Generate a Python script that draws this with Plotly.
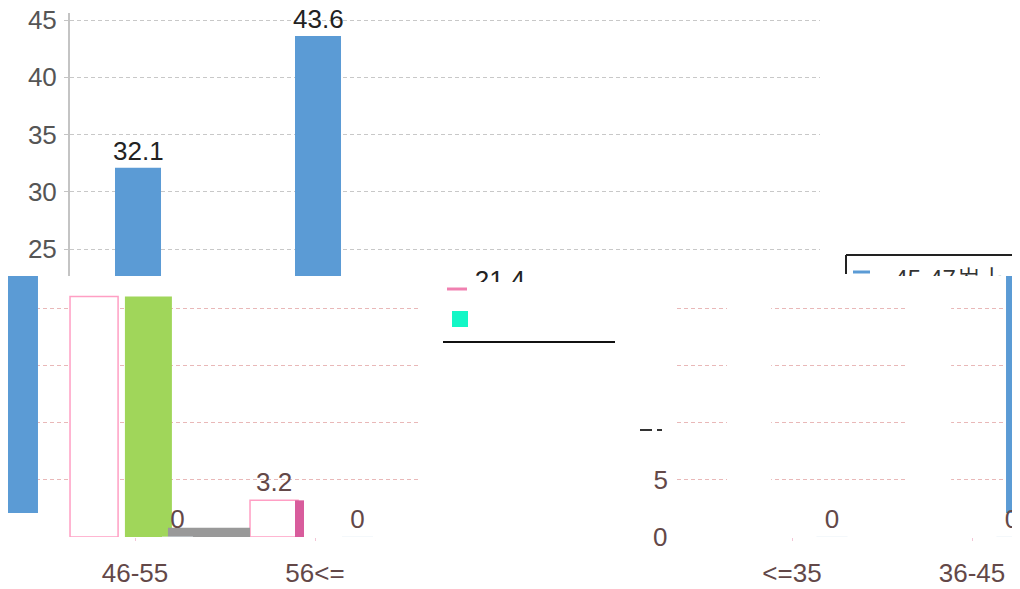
import plotly.graph_objects as go

W, H = 1020, 589          # page size
OFF = 8                   # default page margin of the html body
FW, FH = W - OFF, H - OFF  # figure size so that it ends at the page edge

# ---------------- data ----------------
categories = ["<=35", "36-45", "46-55", "56<="]
blue_top = [32.1, 43.6]                 # <=35, 36-45 (upper band)
pink_vals = [22.6, 22.6, 21.0, 3.2]     # outlined series
green_vals = [0, 0, 21.0, 0]
zero_vals = [0, 0, 0, 0]
gray_strip = [0.8]                      # thin gray strip at 46-55
magenta_vals = [3.2]                    # narrow bar at 56<=
top_ticks = [25, 30, 35, 40, 45]
low_ticks = [5, 10, 15, 20]
low_ticktext = ["5", "", "", ""]
stray_label = "21.4"
legend_text = "45-47岁上"

BLUE = "#5b9bd5"
GREEN = "#a0d65a"
PINK = "#ff9fc4"
MAGENTA = "#d85c9c"
GRAY = "#999999"
TXT = "#634848"
FONT = "Liberation Sans"
FS = 26
UNIT = 180.0  # pixels per category step
BLUE_OFFSET, BLUE_WIDTH = -0.3, 0.2556


def fx(px):
    return max(0.0, min(1.0, (px - OFF) / FW))


def fy(py):
    return max(0.0, min(1.0, 1 - (py - OFF) / FH))


def crange(left_px, right_px, anchor_idx, anchor_px):
    left = max(left_px, OFF)
    start = anchor_idx - (anchor_px - left) / UNIT
    return [start, start + (right_px - left) / UNIT]


fig = go.Figure()

# ---------- upper band (x / y) ----------
fig.add_trace(go.Bar(
    x=categories[:2], y=blue_top, xaxis="x", yaxis="y",
    marker=dict(color=BLUE, line=dict(width=0)),
    offset=BLUE_OFFSET, width=BLUE_WIDTH))
for c, v in zip(categories[:2], blue_top):
    fig.add_annotation(xref="x", yref="y", x=c, y=v, text=f"{v}", showarrow=False,
                       xanchor="center", yanchor="bottom",
                       xshift=(BLUE_OFFSET + BLUE_WIDTH / 2) * UNIT, yshift=0,
                       font=dict(size=FS, color="#222", family=FONT))

# ---------- lower-left band (x2 / y2) ----------
fig.add_trace(go.Bar(
    x=[categories[1]], y=[blue_top[1]], base=2.1, xaxis="x2", yaxis="y2",
    marker=dict(color=BLUE, line=dict(width=0)), offset=0.283, width=0.178))
fig.add_trace(go.Bar(
    x=categories[2:], y=pink_vals[2:], xaxis="x2", yaxis="y2",
    marker=dict(color="white", line=dict(color=PINK, width=1.5)),
    offset=-0.361, width=0.267,
    text=["", f"{pink_vals[3]}"], textposition="outside",
    textfont=dict(size=FS, color=TXT, family=FONT),
    cliponaxis=False, constraintext="none"))
fig.add_trace(go.Bar(
    x=[categories[2]], y=[green_vals[2]], xaxis="x2", yaxis="y2",
    marker=dict(color=GREEN, line=dict(width=0)), offset=-0.056, width=0.261))
fig.add_trace(go.Bar(
    x=[categories[2]], y=gray_strip, xaxis="x2", yaxis="y2",
    marker=dict(color=GRAY, line=dict(width=0)), offset=0.183, width=0.456))
fig.add_trace(go.Bar(
    x=[categories[3]], y=magenta_vals, xaxis="x2", yaxis="y2",
    marker=dict(color=MAGENTA, line=dict(width=0)), offset=-0.111, width=0.05))
fig.add_trace(go.Bar(
    x=categories[2:], y=zero_vals[2:], xaxis="x2", yaxis="y2",
    marker=dict(color="rgba(0,0,0,0)"), offset=0.15, width=0.172,
    text=[f"{v}" for v in zero_vals[2:]], textposition="outside",
    textfont=dict(size=FS, color=TXT, family=FONT),
    cliponaxis=False, constraintext="none"))

# ---------- lower-right band (x3 / y3) ----------
fig.add_trace(go.Bar(
    x=categories[:2], y=pink_vals[:2], xaxis="x3", yaxis="y3",
    marker=dict(color="white", line=dict(width=0)), offset=-0.361, width=0.245))
fig.add_trace(go.Bar(
    x=[categories[1]], y=[blue_top[1]], base=2.1, xaxis="x3", yaxis="y3",
    marker=dict(color=BLUE, line=dict(width=0)), offset=0.189, width=0.3))
fig.add_trace(go.Bar(
    x=categories[:2], y=zero_vals[:2], xaxis="x3", yaxis="y3",
    marker=dict(color="rgba(0,0,0,0)"), offset=0.136, width=0.172,
    text=[f"{v}" for v in zero_vals[:2]], textposition="outside",
    textfont=dict(size=FS, color=TXT, family=FONT),
    cliponaxis=False, constraintext="none"))

# ---------- stray clipped label (x4 / y4) ----------
fig.add_trace(go.Scatter(
    x=[0.5], y=[0.0], mode="text", text=[stray_label], xaxis="x4", yaxis="y4",
    textfont=dict(size=FS, color="#222", family=FONT), cliponaxis=True))

# ---------- clipped legend text (x5 / y5) ----------
fig.add_trace(go.Scatter(
    x=[0.6], y=[-0.25], mode="text", text=[legend_text], xaxis="x5", yaxis="y5",
    textfont=dict(size=24, color="#333", family=FONT), cliponaxis=True))

grid_top = dict(showgrid=True, gridcolor="#c8c8c8", griddash="4px,3px", gridwidth=1)
grid_low = dict(showgrid=True, gridcolor="#e9b8b8", griddash="4px,3px", gridwidth=1)
hidden = dict(visible=False, fixedrange=True, automargin=False)

PX_PER_VAL = 11.45
low_y_range = [0, (537 - 276) / PX_PER_VAL]
top_y_range = [45 - (276 - 20) / PX_PER_VAL, 45 + (20 - 13) / PX_PER_VAL]

fig.update_layout(
    width=FW, height=FH,
    margin=dict(l=0, r=0, t=0, b=0, autoexpand=False),
    paper_bgcolor="white", plot_bgcolor="rgba(0,0,0,0)",
    barmode="overlay", showlegend=False, hovermode=False,
    font=dict(family=FONT),
    xaxis=dict(domain=[fx(70), fx(820)], range=crange(70, 820, 0, 169),
               type="category", categoryorder="array", categoryarray=categories,
               showticklabels=False, showgrid=False, zeroline=False, showline=False,
               ticks="", fixedrange=True, automargin=False),
    yaxis=dict(domain=[fy(276), fy(13)], range=top_y_range,
               tickvals=top_ticks, zeroline=False, showline=True,
               linecolor="#c4c4c4", linewidth=2, ticks="outside", ticklen=4,
               tickcolor="#c4c4c4", ticklabelstandoff=2, ticklabeloverflow="allow",
               tickfont=dict(size=FS, color="#555", family=FONT),
               fixedrange=True, automargin=False, **grid_top),
    xaxis2=dict(domain=[0, fx(420)], range=crange(0, 420, 2, 135), anchor="y2",
                type="category", categoryorder="array", categoryarray=categories,
                showgrid=False, zeroline=False, showline=False, ticks="outside",
                ticklen=3, tickcolor="#f2c6d6", ticklabeloverflow="allow",
                tickfont=dict(size=FS, color=TXT, family=FONT), ticklabelstandoff=10,
                fixedrange=True, automargin=False),
    yaxis2=dict(domain=[fy(537), fy(276)], range=low_y_range, anchor="x2",
                tickvals=low_ticks, showticklabels=False, zeroline=False,
                showline=False, ticks="", fixedrange=True, automargin=False,
                **grid_low),
    xaxis3=dict(domain=[fx(677), 1], range=crange(677, 1020, 0, 792), anchor="y3",
                type="category", categoryorder="array", categoryarray=categories,
                showgrid=False, zeroline=False, showline=False, ticks="outside",
                ticklen=3, tickcolor="#f2c6d6", ticklabeloverflow="allow",
                tickfont=dict(size=FS, color=TXT, family=FONT), ticklabelstandoff=10,
                fixedrange=True, automargin=False),
    yaxis3=dict(domain=[fy(537), fy(276)], range=low_y_range, anchor="x3",
                tickvals=low_ticks, ticktext=low_ticktext, zeroline=False,
                showline=False, ticks="", ticklabelstandoff=8,
                tickfont=dict(size=FS, color=TXT, family=FONT),
                fixedrange=True, automargin=False, **grid_low),
    xaxis4=dict(domain=[fx(440), fx(560)], range=[0, 1], anchor="y4", **hidden),
    yaxis4=dict(domain=[fy(282), fy(262)], range=[0, 1], anchor="x4", **hidden),
    xaxis5=dict(domain=[fx(846), fx(1018)], range=[0, 1], anchor="y5", **hidden),
    yaxis5=dict(domain=[fy(276), fy(256)], range=[0, 1], anchor="x5", **hidden),
)

# "0" tick label of the lower-right band
fig.add_annotation(xref="paper", yref="y3", x=fx(669), y=0, xanchor="right",
                   yanchor="middle", text="0", showarrow=False,
                   font=dict(size=FS, color=TXT, family=FONT))

# fragments: legend box edges, legend markers, stray rule
frag = [
    dict(x0=846, y0=255, x1=1017, y1=255, color="#222", w=2),
    dict(x0=846, y0=255, x1=846, y1=274, color="#222", w=2),
    dict(x0=1017, y0=255, x1=1017, y1=274, color="#222", w=2),
    dict(x0=853, y0=272, x1=870, y1=272, color=BLUE, w=3),
    dict(x0=447, y0=289, x1=467, y1=289, color="#f080b0", w=3),
    dict(x0=443, y0=342, x1=615, y1=342, color="#111", w=2),
    dict(x0=640, y0=430, x1=652, y1=430, color="#333", w=2),
    dict(x0=657, y0=430, x1=662, y1=430, color="#333", w=2),
]
for s in frag:
    fig.add_shape(type="line", xref="paper", yref="paper",
                  x0=fx(s["x0"]), y0=fy(s["y0"]), x1=fx(s["x1"]), y1=fy(s["y1"]),
                  line=dict(color=s["color"], width=s["w"]))
fig.add_shape(type="rect", xref="paper", yref="paper",
              x0=fx(452), y0=fy(327), x1=fx(468), y1=fy(311),
              fillcolor="#12f7c6", line=dict(width=0))

fig.write_html("out.html")
